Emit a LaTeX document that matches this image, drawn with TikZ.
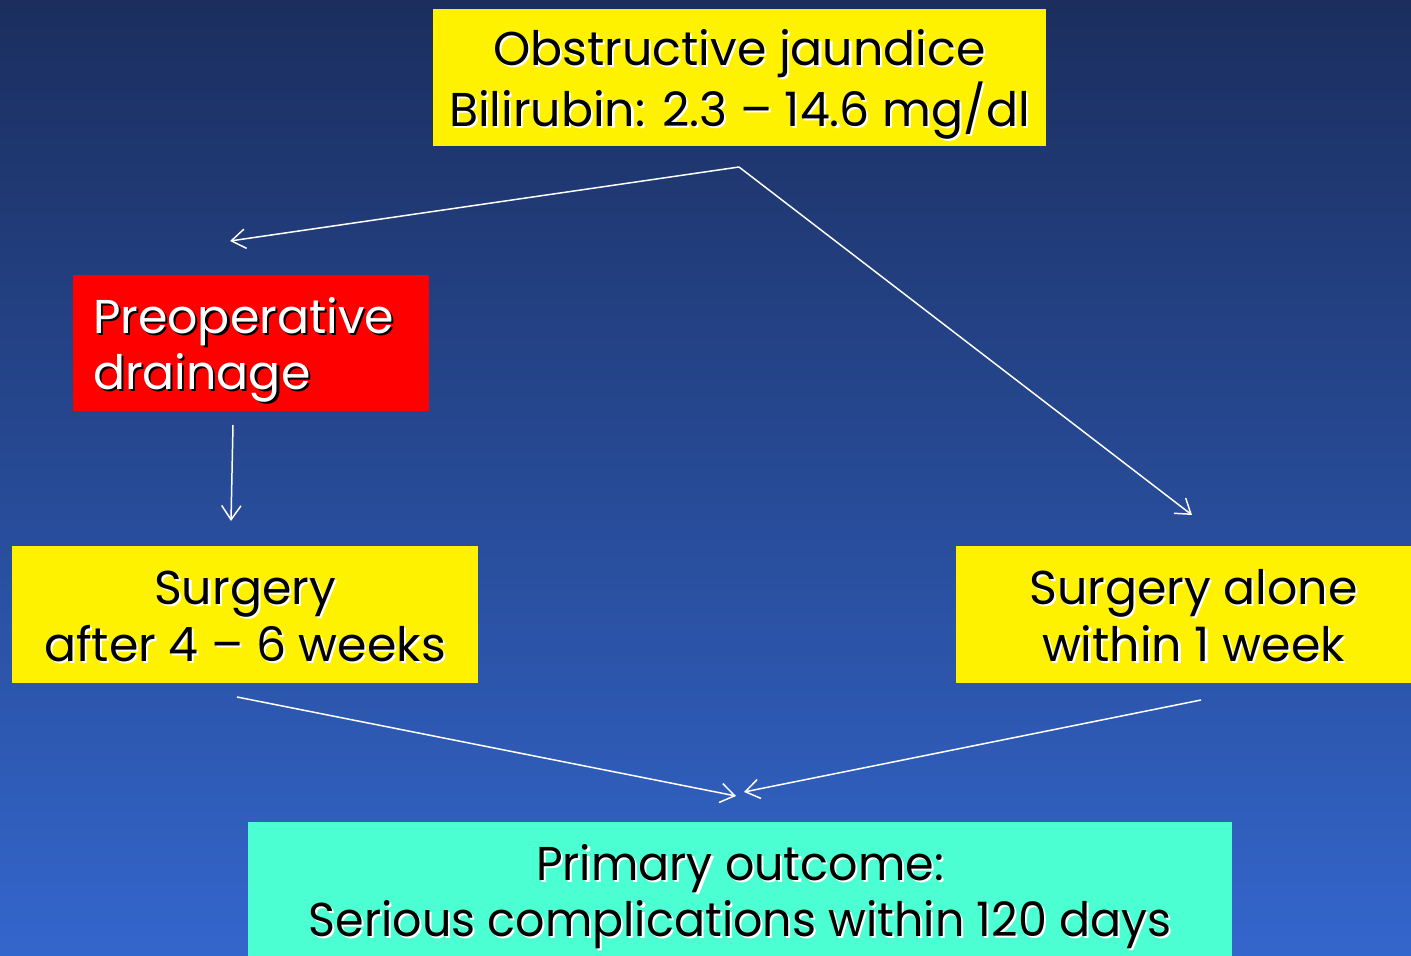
\documentclass[tikz,border=0pt]{standalone}
\usepackage{fontspec}
\setmainfont{Poppins}
\newfontfamily\narrowfont[FakeStretch=0.97]{Poppins}
\usetikzlibrary{positioning, arrows.meta}
\definecolor{navytop}{RGB}{27,46,94}
\definecolor{navybot}{RGB}{51,102,204}
\definecolor{aqua}{RGB}{76,255,210}
\newcommand{\dropline}[2]{\leavevmode\rlap{\kern1.2pt\raisebox{-1.2pt}{\color{#1}#2}}#2}
\newcommand{\twolines}[3]{\raisebox{-4pt}[\height][\depth]{\begin{tabular}{@{}#1@{}}#2\\#3\end{tabular}}}
\tikzset{
    box/.style={shape=rectangle, inner sep=0pt, align=center, minimum height=2.74cm,
      font=\fontsize{27pt}{32.3pt}\selectfont},
    conn/.style={draw=white, line width=0.85pt},
  }

\begin{document}
\begin{tikzpicture}[x=0.02cm,y=-0.02cm,>={Straight Barb[length=8pt,width=11pt]}]
	    \useasboundingbox (0,0) rectangle (1411,956);
	    \fill[top color=navytop, bottom color=navybot] (0,0) rectangle (1411,956);
	    % create the nodes
		    \node[box, fill=yellow, minimum width=12.26cm] (jaundice) at (739.5,77.5)
		      {\twolines{c}{\dropline{white}{Obstructive jaundice}}{\dropline{white}{Bilirubin: 2.3 – 14.6 mg/dl}}};
		    \node[box, fill=red, text=white, minimum width=7.12cm, align=left, text width=6.32cm] (drain) at (251,343)
		      {\twolines{l}{\dropline{black}{Preoperative}}{\dropline{black}{drainage}}};
		    \node[box, fill=yellow, minimum width=9.32cm] (later) at (245,614.5)
		      {\twolines{c}{\dropline{white}{Surgery}}{\dropline{white}{after 4 – 6 weeks}}};
		    \node[box, fill=yellow, minimum width=9.5cm] (alone) at (1193.5,614.5)
		      {\twolines{c}{\dropline{white}{Surgery alone}}{\dropline{white}{within 1 week}}};
		    \node[box, fill=aqua, minimum width=19.68cm, font=\narrowfont\fontsize{27pt}{32.3pt}\selectfont] (outcome) at (740,890)
		      {\twolines{c}{\dropline{white}{Primary outcome:}}{\dropline{white}{Serious complications within 120 days}}};
	    % free ends of the arrows
		    \coordinate (fork) at (739,167);
		    \coordinate (drain in) at (230,241);
		    \coordinate (alone in) at (1192,515);
		    \coordinate (drain out) at (233,425);
		    \coordinate (later in) at (231,521);
		    \coordinate (later out) at (237,697);
		    \coordinate (alone out) at (1201,700);
		    \coordinate (outcome l) at (736,796);
		    \coordinate (outcome r) at (744,792);
	    % arrows
		    \draw[conn,->] (fork) -- (drain in);
		    \draw[conn,->] (fork) -- (alone in);
		    \draw[conn,->] (drain out) -- (later in);
		    \draw[conn,->] (later out) -- (outcome l);
		    \draw[conn,->] (alone out) -- (outcome r);
		\end{tikzpicture}
\end{document}
